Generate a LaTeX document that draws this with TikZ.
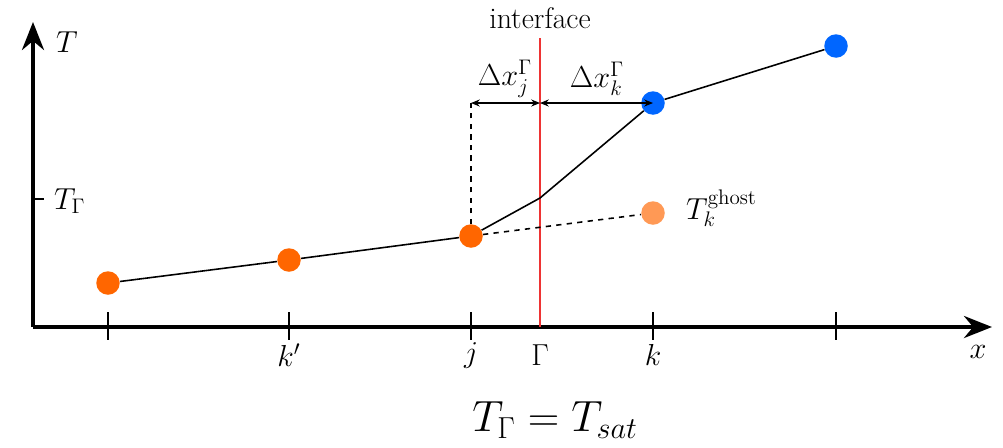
\documentclass[tikz,border=0pt]{standalone}
\usetikzlibrary{arrows.meta}
\definecolor{ptorange}{HTML}{FF6600}
\definecolor{ptghost}{HTML}{FF9955}
\definecolor{ptblue}{HTML}{0066FF}
\definecolor{ifred}{HTML}{EE3333}
\begin{document}
\begin{tikzpicture}[x=0.02cm,y=-0.02cm,
  pt/.style={circle,inner sep=0pt,minimum size=0.47cm},
  axisline/.style={line width=2.3pt,-{Stealth[length=0.56cm,width=0.44cm]}},
  tickline/.style={line width=0.6pt},
  curve/.style={line width=0.9pt},
  dimline/.style={line width=0.6pt,{Stealth[length=5pt,width=4pt]}-{Stealth[length=5pt,width=4pt]}},
  lbl/.style={font=\fontsize{18}{20}\selectfont}]
\useasboundingbox (0,0) rectangle (1003,447);
% axes
\coordinate (O) at (33,327);
\coordinate (Ytip) at (33,22);
\coordinate (Xtip) at (992,327);
\draw[axisline] (O) -- (Ytip);
\draw[axisline] (O) -- (Xtip);
\node[lbl] (Tlab) at (67,42) {$T$};
\node[lbl] (xlab) at (978,352) {$x$};
% ticks
\foreach \xx/\nm in {108/t1,289/t2,471/t3,653/t4,836/t5}{
  \coordinate (\nm a) at (\xx,312);
  \coordinate (\nm b) at (\xx,340);
  \draw[tickline] (\nm a) -- (\nm b);
}
\coordinate (TGa) at (33,199);
\coordinate (TGb) at (44,199);
\draw[tickline] (TGa) -- (TGb);
\node[lbl,anchor=west] (TGlab) at (48,201) {$T_\Gamma$};
\node[lbl] (kplab) at (289,355) {$k'$};
\node[lbl] (jlab) at (471,355) {$j$};
\node[lbl] (Glab) at (540,355) {$\Gamma$};
\node[lbl] (klab) at (653,355) {$k$};
% interface
\coordinate (Itop) at (540,38);
\coordinate (Ibot) at (540,327);
\draw[ifred,line width=1.6pt] (Itop) -- (Ibot);
\node[font=\fontsize{17}{20}\selectfont] (iflab) at (540,18) {interface};
% points
\node[pt,fill=ptorange] (p1) at (108,283) {};
\node[pt,fill=ptorange] (p2) at (289,260) {};
\node[pt,fill=ptorange] (pj) at (471,236) {};
\node[pt,fill=ptghost] (pg) at (653,213) {};
\node[pt,fill=ptblue] (pk) at (653,103) {};
\node[pt,fill=ptblue] (p6) at (836,46) {};
\coordinate (kink) at (540,198);
% curve
\draw[curve] (p1) -- (p2) -- (pj) -- (kink) -- (pk) -- (p6);
\draw[curve,dashed] (pj) -- (pg);
\coordinate (jtop) at (471,103);
\coordinate (gtop) at (540,103);
\draw[tickline,dashed] (pj) -- (jtop);
\draw[dimline] (jtop) -- (gtop);
\draw[dimline] (gtop) -- (pk.center);
\node[font=\fontsize{17.5}{20}\selectfont] (dxj) at (505,79) {$\Delta x_j^\Gamma$};
\node[font=\fontsize{17.5}{20}\selectfont] (dxk) at (597,79) {$\Delta x_k^\Gamma$};
\node[lbl,anchor=west] (ghlab) at (680,208) {$T_k^{\mathrm{ghost}}$};
% equation
\node[font=\fontsize{25.5}{30}\selectfont] (eq) at (555,420) {$T_\Gamma = T_{sat}$};
\end{tikzpicture}
\end{document}
